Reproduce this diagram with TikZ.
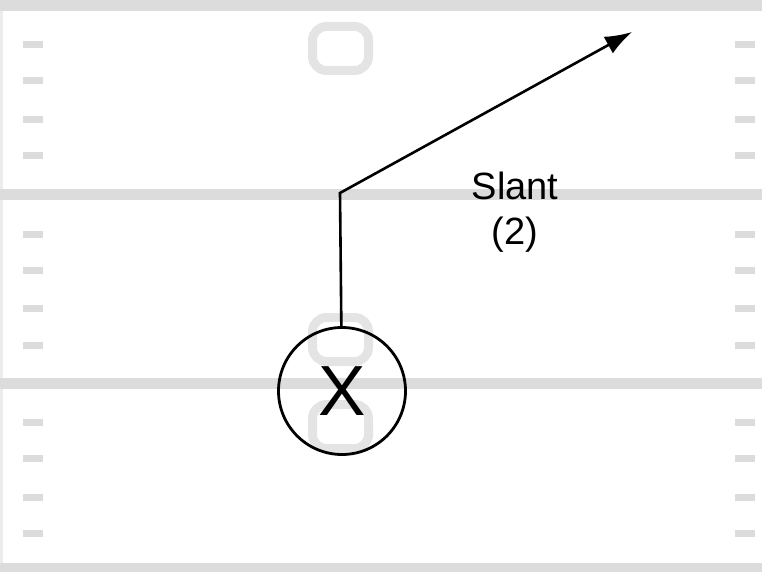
\documentclass[tikz,border=0pt]{standalone}
\usepackage{fontspec}
\setmainfont{Liberation Sans}
\usetikzlibrary{arrows.meta}
\definecolor{fieldgray}{RGB}{220,220,220}
\definecolor{numgray}{RGB}{228,228,228}
\definecolor{edgegray}{RGB}{236,236,236}

\begin{document}
\begin{tikzpicture}[
    x=1pt, y=-1pt,
    yardline/.style={fieldgray, line width=11pt},
    hashmark/.style={fieldgray, line width=7pt},
    numeral/.style={draw=numgray, line width=9pt, rounded corners=14pt,
        minimum width=56pt, minimum height=44pt, inner sep=0pt},
    player/.style={circle, draw=black, line width=2.8pt, minimum size=127pt,
        inner sep=0pt, font=\fontsize{71}{71}\selectfont},
    route/.style={line width=2.6pt, -{Latex[length=27pt,width=19pt]}},
    tag/.style={align=center, font=\fontsize{38}{45}\selectfont}
]

    \useasboundingbox (0,0) rectangle (762,572);

    % Field
    \draw[edgegray, line width=3pt] (1.5,0) -- (1.5,572);
    \foreach \yl in {6,194,383,568}
        \draw[yardline] (0,\yl) -- (762,\yl);
    \foreach \hy in {45,81,120,156,234,270,308,345,422,458,497,533} {
        \draw[hashmark] (23,\hy) -- (43,\hy);
        \draw[hashmark] (735,\hy) -- (755,\hy);
    }

    % Field numbers
    \node[numeral] (num_top) at (340.5,48.5) {};
    \node[numeral] (num_mid) at (340.5,339.5) {};
    \node[numeral] (num_bot) at (340.5,426.5) {};

    % Coordinates
    \coordinate (brk) at (340,193);
    \coordinate (tip) at (632,32);

    % Receiver and route
    \node[player] (wr) at (342,391) {X};
    \draw[route] (wr) -- (brk) -- (tip);

    % Route label
    \node[tag] (lbl) at (515,212) {Slant\\(2)};

\end{tikzpicture}
\end{document}
